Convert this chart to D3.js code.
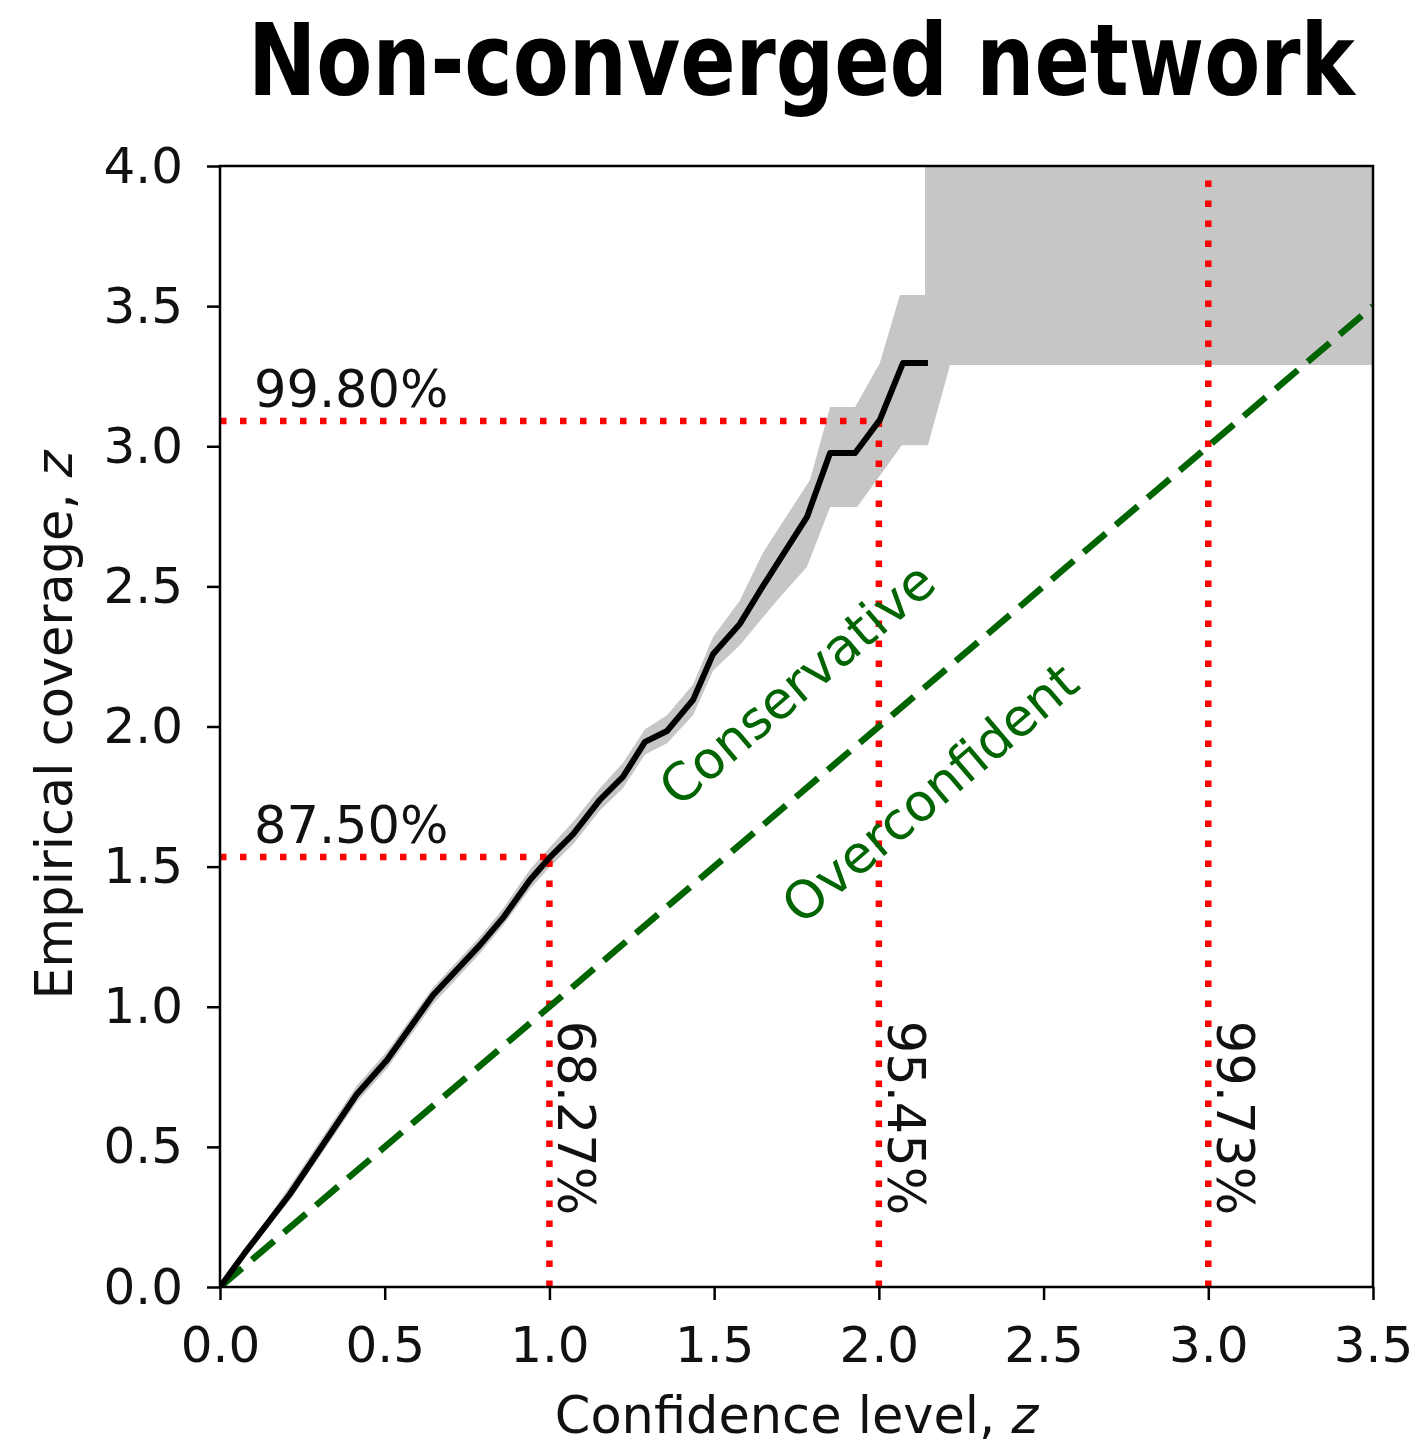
<!DOCTYPE html>
<html>
<head>
<meta charset="utf-8">
<script src="https://cdn.jsdelivr.net/npm/d3@7"></script>
<style>
  body { margin: 0; background: #fff; }
  svg { display: block; }
  text { font-family: "DejaVu Sans", sans-serif; fill: #111; }
</style>
</head>
<body>
<div class="canvas"></div>
<script>
// Calibration curve
const curveX = [0, 0.073, 0.2125, 0.416, 0.507, 0.647, 0.789, 0.859, 0.941, 1.002, 1.072, 1.153, 1.223, 1.290, 1.357, 1.436, 1.497, 1.578, 1.648, 1.782, 1.852, 1.928, 2.003, 2.073, 2.149];
const curveY = [0, 0.118, 0.332, 0.689, 0.810, 1.042, 1.220, 1.317, 1.452, 1.534, 1.616, 1.738, 1.820, 1.945, 1.984, 2.095, 2.259, 2.366, 2.501, 2.748, 2.976, 2.976, 3.094, 3.297, 3.297];

// Uncertainty band, upper edge and lower edge
const upperX = [0, 0.2125, 0.416, 0.507, 0.647, 0.789, 0.859, 0.941, 1.002, 1.072, 1.153, 1.223, 1.290, 1.357, 1.436, 1.497, 1.578, 1.648, 1.791, 1.852, 1.928, 2.003, 2.064, 2.140, 2.140, 3.5];
const upperY = [0, 0.36, 0.72, 0.84, 1.07, 1.25, 1.35, 1.49, 1.57, 1.66, 1.78, 1.87, 1.99, 2.04, 2.15, 2.32, 2.45, 2.62, 2.88, 3.14, 3.14, 3.297, 3.54, 3.54, 4.0, 4.0];
const lowerX = [0, 0.2125, 0.416, 0.507, 0.647, 0.789, 0.859, 0.941, 1.002, 1.072, 1.153, 1.223, 1.290, 1.357, 1.436, 1.497, 1.578, 1.691, 1.782, 1.852, 1.934, 2.070, 2.149, 2.216, 3.5];
const lowerY = [0, 0.31, 0.66, 0.78, 1.01, 1.19, 1.29, 1.42, 1.50, 1.58, 1.70, 1.78, 1.90, 1.94, 2.04, 2.20, 2.29, 2.45, 2.57, 2.783, 2.783, 3.004, 3.004, 3.29, 3.29];

// Reference z levels and their coverage labels
const levelZ = [1, 2, 3];
const levelLabels = ["68.27%", "95.45%", "99.73%"];
const coverageZ = [1.534, 3.09];
const coverageAtX = [1, 2];
const coverageLabels = ["87.50%", "99.80%"];

const xTicks = [0, 0.5, 1.0, 1.5, 2.0, 2.5, 3.0, 3.5];
const yTicks = [0, 0.5, 1.0, 1.5, 2.0, 2.5, 3.0, 3.5, 4.0];

const width = 1424, height = 1447;
const svg = d3.select(".canvas").append("svg")
    .attr("width", width)
    .attr("height", height);

const x = d3.scaleLinear().domain([0, 3.5]).range([220, 1373]);
const y = d3.scaleLinear().domain([0, 4]).range([1287, 166]);

svg.append("clipPath").attr("id", "plot")
    .append("rect")
    .attr("x", x(0)).attr("y", y(4))
    .attr("width", x(3.5) - x(0)).attr("height", y(0) - y(4));

const plot = svg.append("g").attr("clip-path", "url(#plot)");

// band polygon: upper edge forward, lower edge back
const bandPts = upperX.map((d, i) => [d, upperY[i]])
    .concat(lowerX.map((d, i) => [d, lowerY[i]]).reverse());
const poly = d3.line().x(d => x(d[0])).y(d => y(d[1]));
plot.append("path")
    .attr("d", poly(bandPts) + "Z")
    .attr("fill", "#c6c6c6")
    .attr("stroke", "none");

// red dotted guides
const dotted = { stroke: "#ff0000", width: 6.5, dash: "6.5,13.5" };
levelZ.forEach((z, i) => {
    const top = i < coverageZ.length ? coverageZ[i] : 4;
    plot.append("line")
        .attr("x1", x(z)).attr("x2", x(z))
        .attr("y1", y(0)).attr("y2", y(top))
        .attr("stroke", dotted.stroke).attr("stroke-width", dotted.width)
        .attr("stroke-dasharray", dotted.dash);
});
coverageZ.forEach((c, i) => {
    plot.append("line")
        .attr("x1", x(0)).attr("x2", x(coverageAtX[i]))
        .attr("y1", y(c)).attr("y2", y(c))
        .attr("stroke", dotted.stroke).attr("stroke-width", dotted.width)
        .attr("stroke-dasharray", dotted.dash);
});

// ideal diagonal
plot.append("line")
    .attr("x1", x(0)).attr("y1", y(0))
    .attr("x2", x(3.5)).attr("y2", y(3.5))
    .attr("stroke", "#006400").attr("stroke-width", 6.5)
    .attr("stroke-dasharray", "29,13");

// calibration curve
const line = d3.line().x(d => x(d[0])).y(d => y(d[1]));
plot.append("path")
    .attr("d", line(curveX.map((d, i) => [d, curveY[i]])))
    .attr("fill", "none")
    .attr("stroke", "#000")
    .attr("stroke-width", 6)
    .attr("stroke-linejoin", "round");

// labels on guides
levelZ.forEach((z, i) => {
    svg.append("text")
        .attr("transform", `translate(${x(z) + 9}, ${y(0.95)}) rotate(90)`)
        .attr("font-size", 51)
        .text(levelLabels[i]);
});
coverageZ.forEach((c, i) => {
    svg.append("text")
        .attr("x", 254).attr("y", y(c) - 14)
        .attr("font-size", 51)
        .text(coverageLabels[i]);
});

// region labels
const ang = -Math.atan((y(0) - y(3.5)) / (x(3.5) - x(0))) * 180 / Math.PI;
svg.append("text")
    .attr("transform", `translate(797, 684) rotate(${ang})`)
    .attr("text-anchor", "middle").attr("dy", "0.35em")
    .attr("font-size", 52).style("fill", "#006400")
    .text("Conservative");
svg.append("text")
    .attr("transform", `translate(930, 793) rotate(${ang})`)
    .attr("text-anchor", "middle").attr("dy", "0.35em")
    .attr("font-size", 52).style("fill", "#006400")
    .text("Overconfident");

// axes
const xAxis = d3.axisBottom(x).tickValues(xTicks).tickFormat(d3.format(".1f"))
    .tickSize(13).tickPadding(26);
const yAxis = d3.axisLeft(y).tickValues(yTicks).tickFormat(d3.format(".1f"))
    .tickSize(13).tickPadding(24);
const gx = svg.append("g").attr("transform", `translate(0, ${y(0)})`).call(xAxis);
const gy = svg.append("g").attr("transform", `translate(${x(0)}, 0)`).call(yAxis);
[gx, gy].forEach(g => {
    g.select(".domain").remove();
    g.selectAll(".tick line").attr("stroke", "#000").attr("stroke-width", 2.5);
    g.selectAll(".tick text").attr("font-size", 50)
        .attr("font-family", "DejaVu Sans").style("fill", "#111");
});

// frame
svg.append("rect")
    .attr("x", x(0)).attr("y", y(4))
    .attr("width", x(3.5) - x(0)).attr("height", y(0) - y(4))
    .attr("fill", "none").attr("stroke", "#000").attr("stroke-width", 2.5);

// axis titles
const xl = svg.append("text")
    .attr("x", (x(0) + x(3.5)) / 2).attr("y", 1433)
    .attr("text-anchor", "middle").attr("font-size", 51);
xl.append("tspan").text("Confidence level, ");
xl.append("tspan").attr("font-style", "italic").text("z");

const yl = svg.append("text")
    .attr("transform", `translate(72, 725) rotate(-90)`)
    .attr("text-anchor", "middle").attr("font-size", 51);
yl.append("tspan").text("Empirical coverage, ");
yl.append("tspan").attr("font-style", "italic").text("z");

// title: measure natural width, then squeeze horizontally to fit
const title = svg.append("text")
    .attr("x", 0).attr("y", 0)
    .attr("font-family", "DejaVu Sans Condensed, DejaVu Sans")
    .attr("font-weight", "bold").attr("font-size", 100)
    .style("fill", "#000")
    .text("Non-converged network");
const natural = title.node().getComputedTextLength();
title.attr("transform", `translate(248, 95) scale(${1107 / natural}, 1)`);
</script>
</body>
</html>
